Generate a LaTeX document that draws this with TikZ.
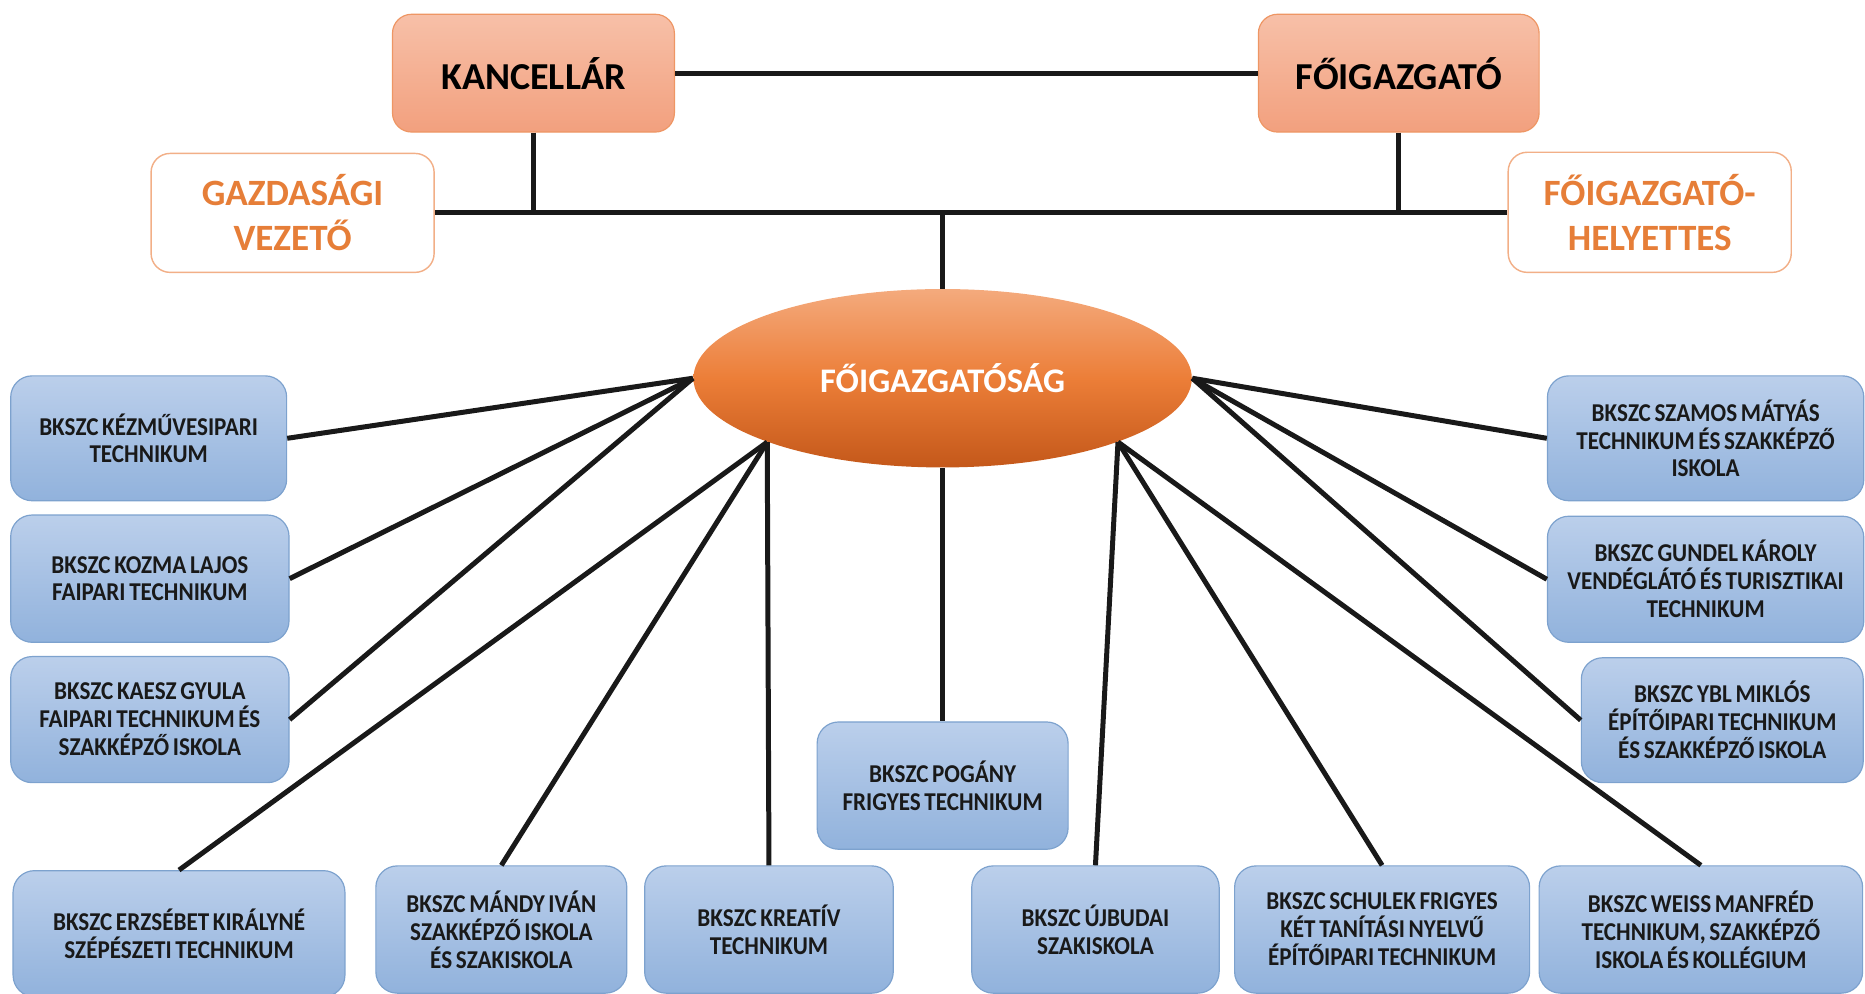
\documentclass[tikz,border=0pt]{standalone}
\usepackage{fontspec}
\setmainfont{Carlito}
\newfontfamily\narrowfont[FakeStretch=0.9, WordSpace=0.7]{Carlito}
\usetikzlibrary{shapes.geometric,shadings}
\definecolor{salmonTop}{RGB}{247,192,168}
\definecolor{salmonBot}{RGB}{242,160,126}
\definecolor{salmonEdge}{RGB}{238,150,100}
\definecolor{orangeTxt}{RGB}{230,126,56}
\definecolor{orangeEdge}{RGB}{242,175,135}
\definecolor{blueTop}{RGB}{187,207,235}
\definecolor{blueBot}{RGB}{145,178,220}
\definecolor{blueEdge}{RGB}{125,162,206}
\definecolor{ellTop}{RGB}{244,170,125}
\definecolor{ellMid}{RGB}{236,126,56}
\definecolor{ellBot}{RGB}{196,88,26}
\tikzset{
  headbox/.style={draw=salmonEdge, line width=0.5pt, rounded corners=8pt,
    top color=salmonTop, bottom color=salmonBot, inner sep=0pt,
    font=\fontsize{16}{19}\selectfont\bfseries, text=black, align=center},
  subbox/.style={draw=orangeEdge, line width=0.6pt, rounded corners=8pt, fill=white,
    inner sep=0pt, font=\fontsize{15.6}{19}\selectfont\bfseries, text=orangeTxt, align=center},
  schoolbox/.style={draw=blueEdge, line width=0.5pt, rounded corners=9pt,
    top color=blueTop, bottom color=blueBot, inner sep=0pt,
    font=\narrowfont\fontsize{10.8}{11.75}\selectfont\bfseries, text=black!90, align=center},
  hub/.style={ellipse, inner sep=0pt, top color=ellTop, bottom color=ellBot, middle color=ellMid,
    font=\fontsize{14.5}{17}\selectfont\bfseries, text=white},
  link/.style={line width=2.1pt, draw=black!90}
}
\begin{document}
\begin{tikzpicture}[x=0.5pt,y=-0.5pt]
\useasboundingbox (0,0) rectangle (1568,835);
% top level
\node[headbox, minimum width=118.5pt, minimum height=49.5pt] (kanc) at (448.5,61.5) {KANCELLÁR};
\node[headbox, minimum width=118pt, minimum height=49.5pt] (fo) at (1176,61.5) {FŐIGAZGATÓ};
\node[subbox, minimum width=119pt, minimum height=50pt] (gazd) at (246,179) {GAZDASÁGI\\VEZETŐ};
\node[subbox, minimum width=119pt, minimum height=50.5pt] (hely) at (1387,178.5) {FŐIGAZGATÓ-\\HELYETTES};
\node[hub, minimum width=209.5pt, minimum height=75pt] (hq) at (792.5,318) {FŐIGAZGATÓSÁG};
% schools
\node[schoolbox, minimum width=116pt, minimum height=52.5pt] (b1) at (125,368.5) {BKSZC KÉZMŰVESIPARI\\TECHNIKUM};
\node[schoolbox, minimum width=117pt, minimum height=53.5pt] (b2) at (126,486.5) {BKSZC KOZMA LAJOS\\FAIPARI TECHNIKUM};
\node[schoolbox, minimum width=117pt, minimum height=53pt] (b3) at (126,605) {BKSZC KAESZ GYULA\\FAIPARI TECHNIKUM ÉS\\SZAKKÉPZŐ ISKOLA};
\node[schoolbox, minimum width=133pt, minimum height=52.5pt] (b4) at (1434,368.5) {BKSZC SZAMOS MÁTYÁS\\TECHNIKUM ÉS SZAKKÉPZŐ\\ISKOLA};
\node[schoolbox, minimum width=133pt, minimum height=53pt] (b5) at (1434,487) {BKSZC GUNDEL KÁROLY\\VENDÉGLÁTÓ ÉS TURISZTIKAI\\TECHNIKUM};
\node[schoolbox, minimum width=118.5pt, minimum height=52.5pt] (b6) at (1448,605.5) {BKSZC YBL MIKLÓS\\ÉPÍTŐIPARI TECHNIKUM\\ÉS SZAKKÉPZŐ ISKOLA};
\node[schoolbox, minimum width=139.5pt, minimum height=53pt] (b7) at (150.5,785) {BKSZC ERZSÉBET KIRÁLYNÉ\\SZÉPÉSZETI TECHNIKUM};
\node[schoolbox, minimum width=105.5pt, minimum height=53.5pt] (b8) at (421.5,781.5) {BKSZC MÁNDY IVÁN\\SZAKKÉPZŐ ISKOLA\\ÉS SZAKISKOLA};
\node[schoolbox, minimum width=104.5pt, minimum height=53.5pt] (b9) at (646.5,781.5) {BKSZC KREATÍV\\TECHNIKUM};
\node[schoolbox, minimum width=105.5pt, minimum height=53.5pt] (b10) at (792.5,660.5) {BKSZC POGÁNY\\FRIGYES TECHNIKUM};
\node[schoolbox, minimum width=104pt, minimum height=53.5pt] (b11) at (921,781.5) {BKSZC ÚJBUDAI\\SZAKISKOLA};
\node[schoolbox, minimum width=124pt, minimum height=53.5pt] (b12) at (1162,781.5) {BKSZC SCHULEK FRIGYES\\KÉT TANÍTÁSI NYELVŰ\\ÉPÍTŐIPARI TECHNIKUM};
\node[schoolbox, minimum width=136pt, minimum height=53.5pt] (b13) at (1430,781.5) {BKSZC WEISS MANFRÉD\\TECHNIKUM, SZAKKÉPZŐ\\ISKOLA ÉS KOLLÉGIUM};
% top connectors
\draw[link] (kanc.east) -- (fo.west);
\draw[link] (gazd.east) -- (gazd.east -| hely.west);
\draw[link] (kanc.south) -- (kanc.south |- gazd.east);
\draw[link] (fo.south) -- (fo.south |- gazd.east);
\draw[link] (hq.north) -- (hq.north |- gazd.east);
% fan connectors
\draw[link] (hq.180) -- (b1.east);
\draw[link] (hq.180) -- (b2.east);
\draw[link] (hq.180) -- (b3.east);
\draw[link] (hq.200) -- (b7.north);
\draw[link] (hq.200) -- (b8.north);
\draw[link] (hq.200) -- (b9.north);
\draw[link] (hq.south) -- (b10.north);
\draw[link] (hq.340) -- (b11.north);
\draw[link] (hq.340) -- (b12.north);
\draw[link] (hq.340) -- (b13.north);
\draw[link] (hq.0) -- (b4.west);
\draw[link] (hq.0) -- (b5.west);
\draw[link] (hq.0) -- (b6.west);
\end{tikzpicture}
\end{document}
